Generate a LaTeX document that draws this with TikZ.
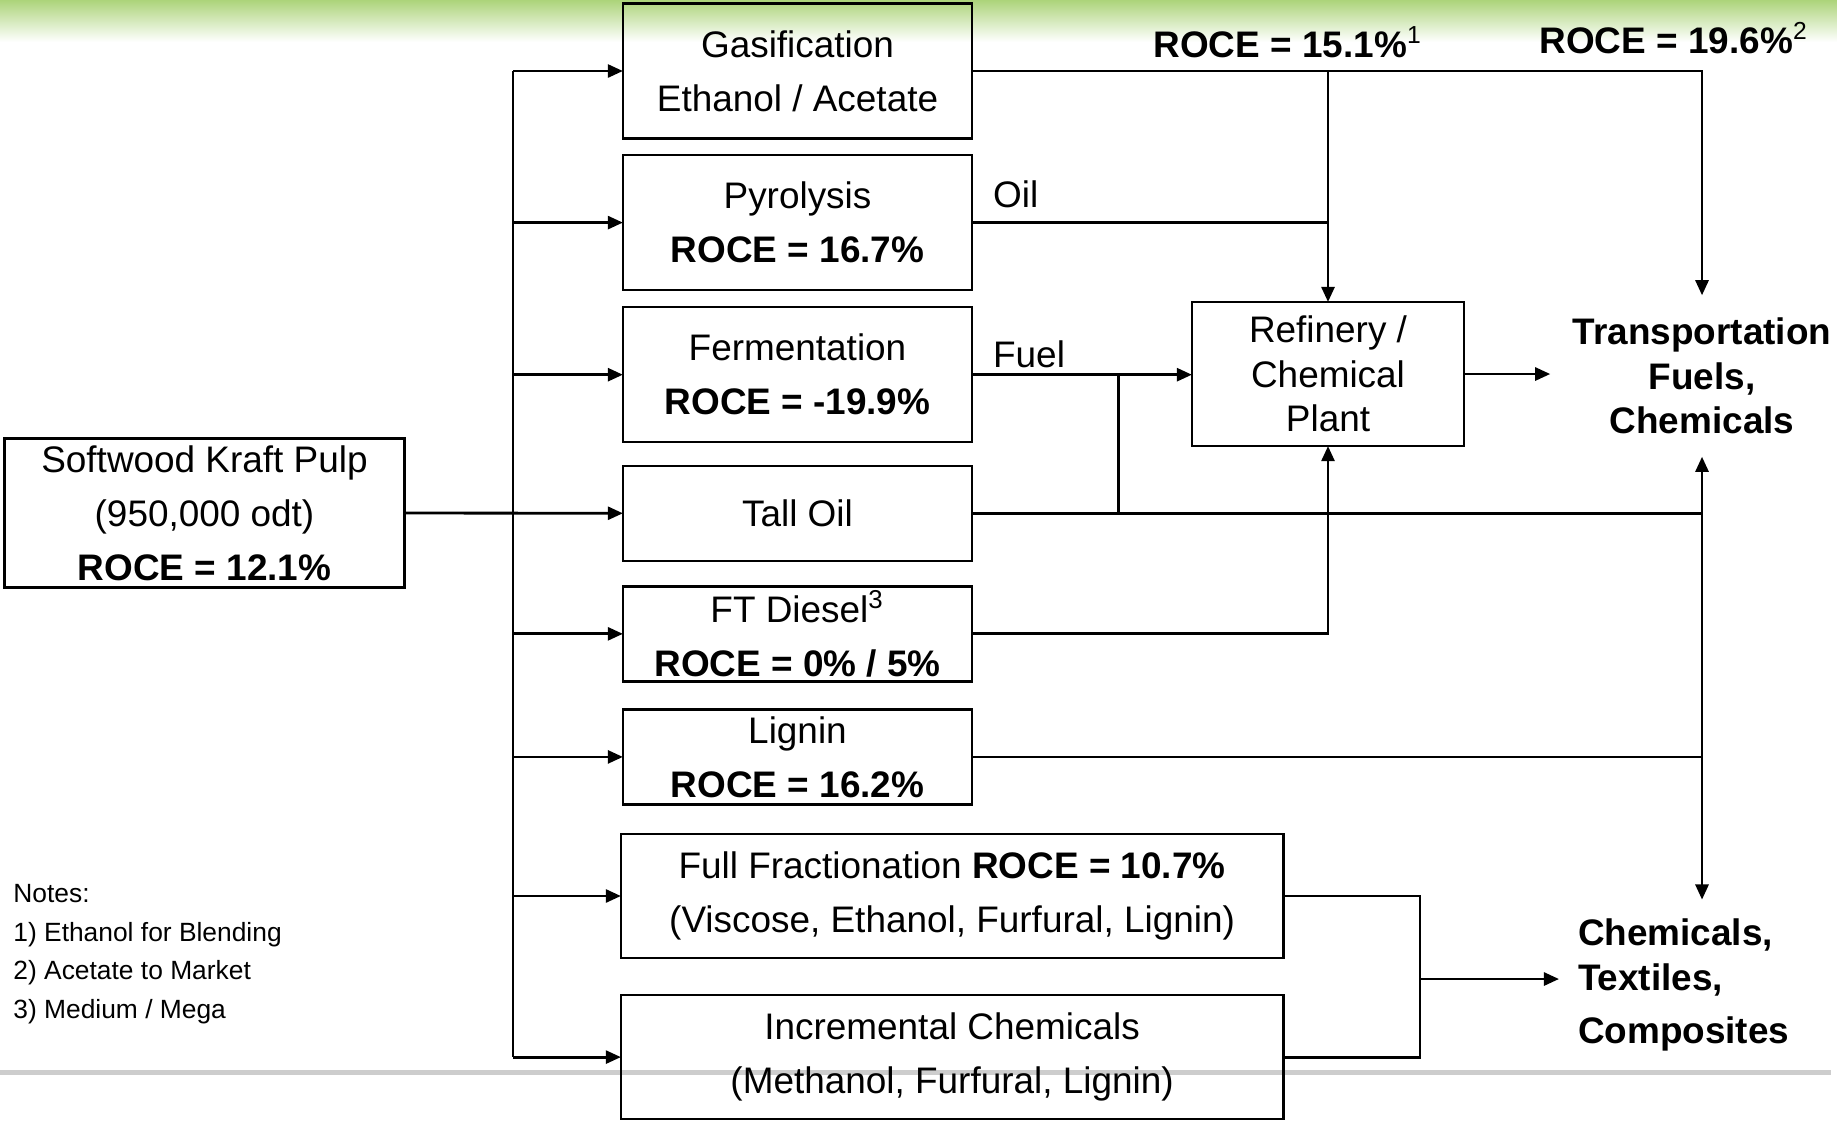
\documentclass[tikz,border=0pt]{standalone}
\usepackage{fontspec}
\setmainfont{Liberation Sans}
\usepackage{xcolor}
\usepackage{tikz}
\usetikzlibrary{positioning,calc,arrows.meta}

\definecolor{bandgreen}{RGB}{172,212,122}
\definecolor{footgrey}{RGB}{205,205,205}

\begin{document}
\begin{tikzpicture}[x=0.01cm, y=0.01cm, >={Triangle[length=4.3pt,width=3.7pt]}, line width=0.8pt,
    txt/.style={font=\fontsize{10.5}{15.4}\selectfont},
    proc/.style={rectangle, draw, line width=0.7pt, txt, align=center, inner sep=0pt, outer sep=0pt, minimum width=3.49cm, minimum height=1.35cm},
    slim/.style={proc, minimum height=0.95cm},
    wide/.style={proc, minimum width=6.62cm, minimum height=1.24cm},
    flow/.style={->},
    endprod/.style={font=\bfseries\fontsize{10.5}{12.7}\selectfont, align=center},
    roce/.style={font=\bfseries\fontsize{10.5}{12}\selectfont},
    note/.style={font=\fontsize{7.5}{11}\selectfont, align=left, inner sep=0pt}]
        \useasboundingbox (0,0) rectangle (1837,-1120);
        % Slide background
        \shade[top color=bandgreen, bottom color=white] (0,0) rectangle (1837,-42);
        \fill[footgrey] (0,-1070) rectangle (1831,-1075);

        % Feedstock
        \node (pulp) [proc, minimum width=4cm, minimum height=1.49cm] at (204.5,-513) {Softwood Kraft Pulp\\(950,000 odt)\\\textbf{ROCE = 12.1\%}};

        % Conversion routes
        \node (gas) [proc] at (797.5,-71) {Gasification\\Ethanol / Acetate};
        \node (pyro) [proc, below=0.165cm of gas] {Pyrolysis\\\textbf{ROCE = 16.7\%}};
        \node (ferm) [proc, below=0.17cm of pyro] {Fermentation\\\textbf{ROCE = -19.9\%}};
        \node (tall) [slim, below=0.235cm of ferm] {Tall Oil};
        \node (ft) [slim, below=0.255cm of tall] {FT Diesel\textsuperscript{3}\\\textbf{ROCE = 0\% / 5\%}};
        \node (lig) [slim, below=0.28cm of ft] {Lignin\\\textbf{ROCE = 16.2\%}};
        \node (frac) [wide, below right=0.295cm and -0.02cm of lig.south west] {Full Fractionation \textbf{ROCE = 10.7\%}\\(Viscose, Ethanol, Furfural, Lignin)};
        \node (incr) [wide, below=0.37cm of frac] {Incremental Chemicals\\(Methanol, Furfural, Lignin)};

        % Refinery and end products
        \node (ref) [proc, minimum width=2.72cm, minimum height=1.44cm, font=\fontsize{10.5}{12.7}\selectfont] at (1328,-374) {Refinery /\\Chemical\\Plant};
        \node (trans) [endprod, inner sep=6pt] at (1702,-376) {Transportation\\Fuels,\\Chemicals};
        \node (chem) [endprod, align=left, anchor=west, inner sep=5pt] at (1559,-985) {Chemicals,\\Textiles,\\[2.6pt]Composites};

        % Labels
        \node (roceA) [roce] at (1288,-42) {ROCE = 15.1\%\textsuperscript{\mdseries\scriptsize 1}};
        \node (roceB) [roce] at (1674,-38) {ROCE = 19.6\%\textsuperscript{\mdseries\scriptsize 2}};
        \node (oil) [txt, anchor=west] at (980,-194) {Oil};
        \node (fuel) [txt, anchor=west] at (980,-354) {Fuel};
        \node (notes) [note, anchor=west] at (12,-954) {Notes:\\1) Ethanol for Blending\\2) Acetate to Market\\3) Medium / Mega};

        % Arrows
        \coordinate (trunk) at (513,-513);
        \draw (trunk |- gas.west) -- (trunk |- incr.west);
        \draw[flow] (pulp.east) -- (tall.west);
        \foreach \n in {gas,pyro,ferm,ft,lig,frac,incr}
            \draw[flow] (trunk |- \n.west) -- (\n.west);

        \coordinate (split) at (gas.east -| ref.north);
        \draw[flow] (gas.east) -- (split) -- (ref.north);
        \draw[flow] (split) -| (trans.north);
        \draw (pyro.east) -- (pyro.east -| ref.north);
        \draw[flow] (ferm.east) -- (ferm.east -| ref.west);
        \coordinate (fuelj) at ($(ferm.east)+(146,0)$);
        \draw (fuelj) -- (fuelj |- tall.east);
        \draw (tall.east) -- (tall.east -| trans.south);
        \draw[flow] (ft.east) -| (ref.south);
        \draw[flow] (lig.east) -| (trans.south);
        \draw[flow] (lig.east -| trans.south) -- (trans.south |- chem.north);
        \draw[flow] (ref.east) -- (ref.east -| trans.west);

        \coordinate (merge) at (1420,-979);
        \draw (frac.east) -| (merge) |- (incr.east);
        \draw[flow] (merge) -- (merge -| chem.west);
    \end{tikzpicture}
\end{document}
